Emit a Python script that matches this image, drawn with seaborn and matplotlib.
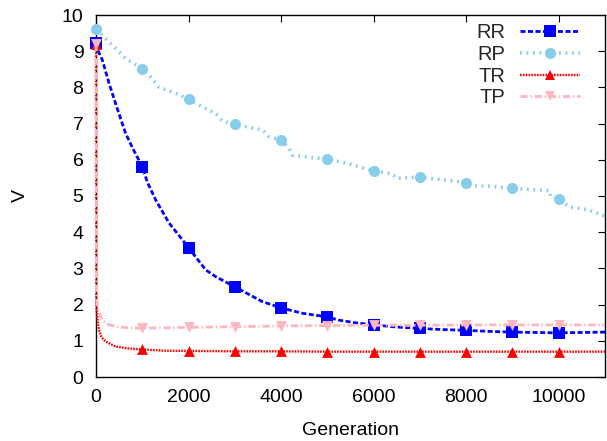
import matplotlib
matplotlib.use("Agg")
import matplotlib.pyplot as plt
from matplotlib.lines import Line2D
import seaborn as sns

# values (V per generation)
gen_rr = [0, 50, 136, 280, 450, 640, 800, 1000, 1110, 1290, 1580, 1800, 2000, 2370,
          2590, 3000, 3600, 4000, 4460, 5000, 5250, 5600, 6000, 6500, 7000, 7500,
          8000, 8500, 9000, 9500, 10000, 10500, 11000]
v_rr = [9.22, 9.0, 8.76, 8.12, 7.45, 6.73, 6.3, 5.81, 5.38, 4.89, 4.25, 3.9, 3.57, 2.96,
        2.77, 2.49, 2.08, 1.91, 1.76, 1.66, 1.57, 1.50, 1.44, 1.38, 1.34, 1.31,
        1.29, 1.26, 1.24, 1.23, 1.22, 1.23, 1.24]

gen_rp = [0, 280, 640, 1000, 1146, 1362, 1723, 2000, 2370, 2590, 2730, 3000, 3600,
          3740, 4000, 4170, 4240, 4605, 5000, 5500, 6000, 6400, 6510, 7000, 7500,
          8000, 8065, 8500, 9000, 9500, 9800, 9830, 10000, 10230, 10660, 10950, 11000]
v_rp = [9.60, 9.26, 8.80, 8.51, 8.34, 8.0, 7.84, 7.67, 7.42, 7.28, 7.07, 6.98, 6.82,
        6.64, 6.55, 6.32, 6.13, 6.07, 6.02, 5.88, 5.69, 5.61, 5.49, 5.52, 5.45,
        5.37, 5.28, 5.27, 5.21, 5.17, 5.15, 4.98, 4.91, 4.70, 4.61, 4.47, 4.45]

gen_tr = [0, 5, 20, 65, 120, 210, 425, 700, 1000, 1435, 2000, 3000, 4000, 5000,
          6000, 7000, 8000, 9000, 10000, 11000]
v_tr = [9.2, 2.2, 1.7, 1.3, 1.1, 0.98, 0.84, 0.79, 0.76, 0.73, 0.72, 0.71, 0.71,
        0.70, 0.70, 0.70, 0.70, 0.70, 0.70, 0.70]

gen_tp = [0, 5, 20, 50, 136, 250, 425, 700, 1000, 1500, 2000, 3000, 4000, 5000,
          6000, 7000, 8000, 9000, 10000, 11000]
v_tp = [9.2, 2.6, 2.1, 1.8, 1.57, 1.46, 1.39, 1.36, 1.35, 1.36, 1.37, 1.39, 1.41,
        1.42, 1.43, 1.43, 1.44, 1.44, 1.44, 1.44]

labels = ["RR", "RP", "TR", "TP"]
colors = ["#0000ff", "#87ceeb", "#ff0000", "#ffb6c1"]
markers = ["s", "o", "^", "v"]
msizes = [8.5, 8.0, 7.8, 7.8]
styles = [(0, (1.8, 0.9)), (0, (0.5, 1.3)), (0, (0.7, 0.5)), (0, (2.6, 1.0, 0.5, 1.0))]
widths = [2.0, 2.6, 1.7, 2.0]
series = [(gen_rr, v_rr), (gen_rp, v_rp), (gen_tr, v_tr), (gen_tp, v_tp)]

sns.set_theme(style="white")
plt.rcParams["font.family"] = ["Liberation Sans", "DejaVu Sans"]
plt.rcParams["font.size"] = 14

fig = plt.figure(figsize=(6.07, 4.41), dpi=100)
ax = fig.add_axes([96 / 607, 64 / 441, 509 / 607, 362 / 441])

handles = []
for i, (gx, gy) in enumerate(series):
    sns.lineplot(x=gx, y=gy, ax=ax, color=colors[i], linestyle=styles[i],
                 linewidth=widths[i], zorder=2 + 2 * i, clip_on=False)
    mx = [g for g in gx if g % 1000 == 0 and g <= 10000]
    my = [v for g, v in zip(gx, gy) if g % 1000 == 0 and g <= 10000]
    sns.scatterplot(x=mx, y=my, ax=ax, color=colors[i], marker=markers[i],
                    s=msizes[i] ** 2, linewidth=0, zorder=3 + 2 * i, clip_on=False)
    handles.append(Line2D([], [], color=colors[i], linestyle=styles[i],
                          linewidth=widths[i], marker=markers[i],
                          markersize=msizes[i], markeredgewidth=0))

ax.set_xlim(0, 11000)
ax.set_ylim(0, 10)
ax.set_xticks(range(0, 11000, 2000))
ax.set_yticks(range(0, 11))
ax.tick_params(direction="in", length=5, width=0.8, color="black", pad=9,
               labelsize=14, top=True, right=True, labelcolor="black")
for sp in ax.spines.values():
    sp.set_visible(True)
    sp.set_color("black")
    sp.set_linewidth(1.0)

ax.set_xlabel("Generation", fontsize=14, color="black")
ax.set_ylabel("V", fontsize=14, color="black")
ax.xaxis.set_label_coords(0.5, -0.125)
ax.yaxis.set_label_coords(-0.148, 0.5)
ax.yaxis.label.set_va("center")

ax.legend(handles, labels, loc="upper right", bbox_to_anchor=(580 / 607, 1 - 23 / 441),
          bbox_transform=fig.transFigure, frameon=False, markerfirst=False,
          fontsize=14.5, handlelength=3.0, handletextpad=0.7, labelspacing=0.14,
          borderpad=0, borderaxespad=0)

fig.savefig("out.png", dpi=100)
